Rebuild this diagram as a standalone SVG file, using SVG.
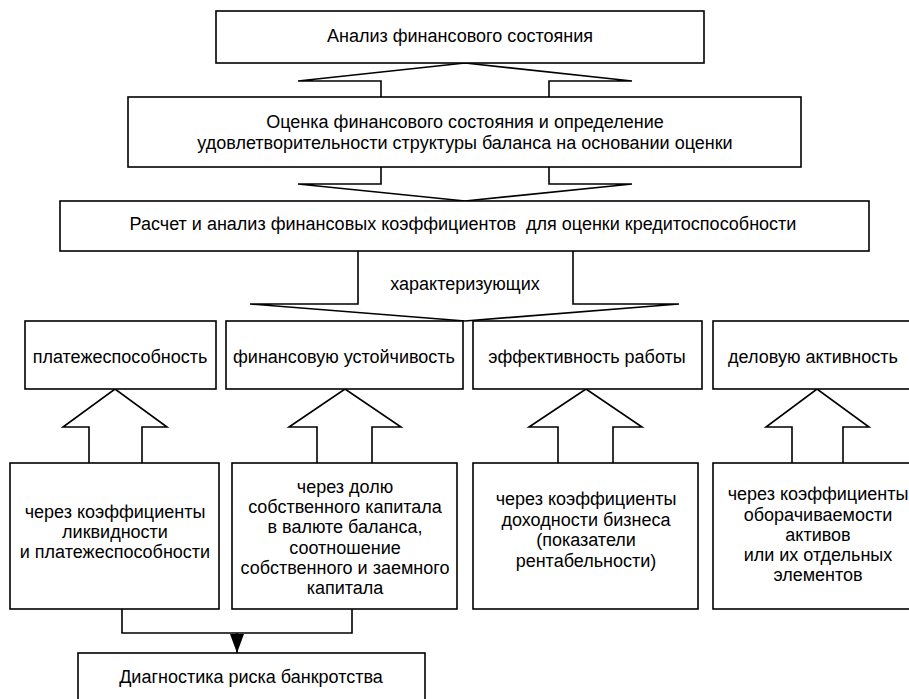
<svg xmlns="http://www.w3.org/2000/svg" width="909" height="699" viewBox="0 0 909 699">
<style>
  .box { fill: #fff; stroke: #000; stroke-width: 1.6; }
  .ln { fill: none; stroke: #000; stroke-width: 1.6; stroke-linejoin: miter; }
  text { font-family: "Liberation Sans", Arial, sans-serif; font-size: 18px; fill: #000; text-anchor: middle; }
</style>
<defs>
  <marker id="ah" markerWidth="19" markerHeight="14" refX="19" refY="7" orient="auto" markerUnits="userSpaceOnUse" viewBox="0 0 19 14">
    <path d="M0,0 L19,7 L0,14 Z" fill="#000"/>
  </marker>
</defs>
<rect width="909" height="699" fill="#fff"/>

<g id="connectors">
  <polyline class="ln" points="381,97 381,81 298,81 465,63 632,81 549,81 549,97"/>
  <polyline class="ln" points="381,167 381,184 298,184 465,201 632,184 549,184 549,167"/>
  <polyline class="ln" points="358,251 358,304 250,304 465,321 679,304 573,304 573,251"/>
  <polyline class="ln" points="89,463 89,427 63,427 115,389 167,427 142,427 142,463"/>
  <polyline class="ln" points="317,463 317,427 289,427 345,389 401,427 372,427 372,463"/>
  <polyline class="ln" points="558,463 558,427 529,427 586,389 642,427 613,427 613,463"/>
  <polyline class="ln" points="792,463 792,427 766,427 817,389 869,427 843,427 843,463"/>
  <polyline class="ln" points="122,609 122,633 352,633 352,609"/>
  <line class="ln" x1="237" y1="633" x2="237" y2="653" marker-end="url(#ah)"/>
</g>

<g id="n-analiz">
  <rect class="box" x="216" y="11" width="488" height="52"/>
  <text x="460" y="42">Анализ финансового состояния</text>
</g>
<g id="n-ocenka">
  <rect class="box" x="128" y="97" width="673" height="70"/>
  <text x="465" y="128">Оценка финансового состояния и определение</text>
  <text x="465" y="149">удовлетворительности структуры баланса на основании оценки</text>
</g>
<g id="n-raschet">
  <rect class="box" x="60" y="201" width="809" height="50"/>
  <text x="463" y="230" xml:space="preserve">Расчет и анализ финансовых коэффициентов  для оценки кредитоспособности</text>
</g>
<g id="n-harakter">
  <text x="465" y="290">характеризующих</text>
</g>
<g id="n-plat">
  <rect class="box" x="25" y="321" width="191" height="68"/>
  <text x="120" y="363">платежеспособность</text>
</g>
<g id="n-fin">
  <rect class="box" x="226" y="321" width="237" height="68"/>
  <text x="344" y="363">финансовую устойчивость</text>
</g>
<g id="n-eff">
  <rect class="box" x="473" y="321" width="229" height="68"/>
  <text x="587" y="363">эффективность работы</text>
</g>
<g id="n-del">
  <rect class="box" x="713" y="321" width="200" height="68"/>
  <text x="813" y="363">деловую активность</text>
</g>
<g id="n-likv">
  <rect class="box" x="10" y="463" width="209" height="146"/>
  <text x="115" y="518">через коэффициенты</text>
  <text x="115" y="538">ликвидности</text>
  <text x="115" y="558">и платежеспособности</text>
</g>
<g id="n-dolya">
  <rect class="box" x="232" y="463" width="225" height="146"/>
  <text x="345" y="493">через долю</text>
  <text x="345" y="513">собственного капитала</text>
  <text x="345" y="533">в валюте баланса,</text>
  <text x="345" y="554">соотношение</text>
  <text x="345" y="574">собственного и заемного</text>
  <text x="345" y="594">капитала</text>
</g>
<g id="n-dohod">
  <rect class="box" x="473" y="463" width="225" height="146"/>
  <text x="586" y="505">через коэффициенты</text>
  <text x="586" y="526">доходности бизнеса</text>
  <text x="586" y="546">(показатели</text>
  <text x="586" y="567">рентабельности)</text>
</g>
<g id="n-obor">
  <rect class="box" x="713" y="463" width="200" height="146"/>
  <text x="818" y="500">через коэффициенты</text>
  <text x="818" y="521">оборачиваемости</text>
  <text x="818" y="541">активов</text>
  <text x="818" y="561">или их отдельных</text>
  <text x="818" y="581">элементов</text>
</g>
<g id="n-diag">
  <rect class="box" x="78" y="653" width="347" height="60"/>
  <text x="251" y="683">Диагностика риска банкротства</text>
</g>
</svg>
